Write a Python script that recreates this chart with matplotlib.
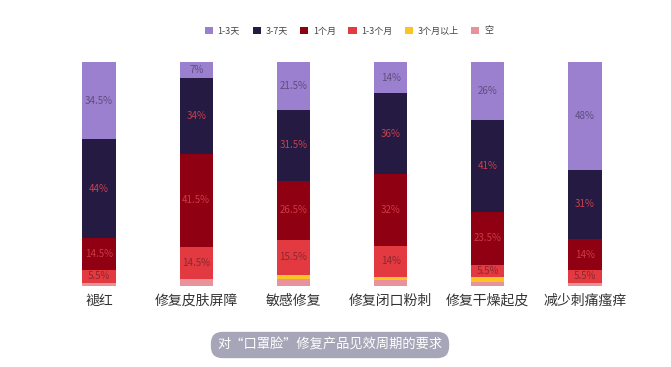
import numpy as np
import matplotlib.pyplot as plt
from matplotlib.patches import Patch

plt.rcParams['font.family'] = ['Noto Sans CJK SC', 'DejaVu Sans']

# données
categories = ["褪红", "修复皮肤屏障", "敏感修复", "修复闭口粉刺", "修复干燥起皮", "减少刺痛瘙痒"]
series = ["1-3天", "3-7天", "1个月", "1-3个月", "3个月以上", "空"]
v_1_3d = [34.5, 7, 21.5, 14, 26, 48]
v_3_7d = [44, 34, 31.5, 36, 41, 31]
v_1m = [14.5, 41.5, 26.5, 32, 23.5, 14]
v_1_3m = [5.5, 14.5, 15.5, 14, 5.5, 5.5]
v_3m_plus = [0, 0, 2, 1.5, 2, 0]
v_empty = [1.5, 3, 3, 2.5, 2, 1.5]

# bas -> haut
stack = [v_empty, v_3m_plus, v_1_3m, v_1m, v_3_7d, v_1_3d]
stack_names = ["空", "3个月以上", "1-3个月", "1个月", "3-7天", "1-3天"]
colors = {"1-3天": "#9b80cf", "3-7天": "#241a42", "1个月": "#8e0012",
          "1-3个月": "#e23a40", "3个月以上": "#fbc521", "空": "#e8929c"}
label_colors = {"1-3天": "#5e4d7e", "3-7天": "#c9404d", "1个月": "#cf3a46",
                "1-3个月": "#8c2630"}

fig = plt.figure(figsize=(6.71, 3.67), dpi=100)
ax = fig.add_axes([0, 1 - 286/367, 1, 224/367])
x = np.arange(len(categories))
bottom = np.zeros(len(categories))
for vals, name in zip(stack, stack_names):
    vals = np.array(vals, dtype=float)
    ax.bar(x, vals, width=0.34, bottom=bottom, color=colors[name], linewidth=0)
    if name in label_colors:
        for xi, b, v in zip(x, bottom, vals):
            if v >= 5:
                ax.text(xi, b + v / 2, f"{v:g}%", ha="center", va="center",
                        fontsize=7, color=label_colors[name])
    bottom += vals

ax.set_xlim((0 - 99) / 97.2, (671 - 99) / 97.2)
ax.set_ylim(0, 100)
ax.axis("off")

for xi, c in zip(x, categories):
    ax.text(xi, -6.5, c, ha="center", va="center", fontsize=10, color="#333333")

handles = [Patch(facecolor=colors[s], edgecolor="none") for s in series]
fig.legend(handles, series, loc="center", bbox_to_anchor=(349 / 671, 1 - 31 / 367),
           ncol=6, frameon=False, fontsize=6.5, handlelength=0.9, handleheight=0.9,
           handletextpad=0.5, columnspacing=1.4, labelcolor="#444444")

fig.text(330 / 671, 1 - 345 / 367, "对“口罩脸”修复产品见效周期的要求", ha="center", va="center",
         fontsize=9.5, color="white",
         bbox=dict(boxstyle="round,pad=0.5,rounding_size=0.9", facecolor="#a6a6b8",
                   edgecolor="none"))

fig.savefig("out.png", dpi=100)
